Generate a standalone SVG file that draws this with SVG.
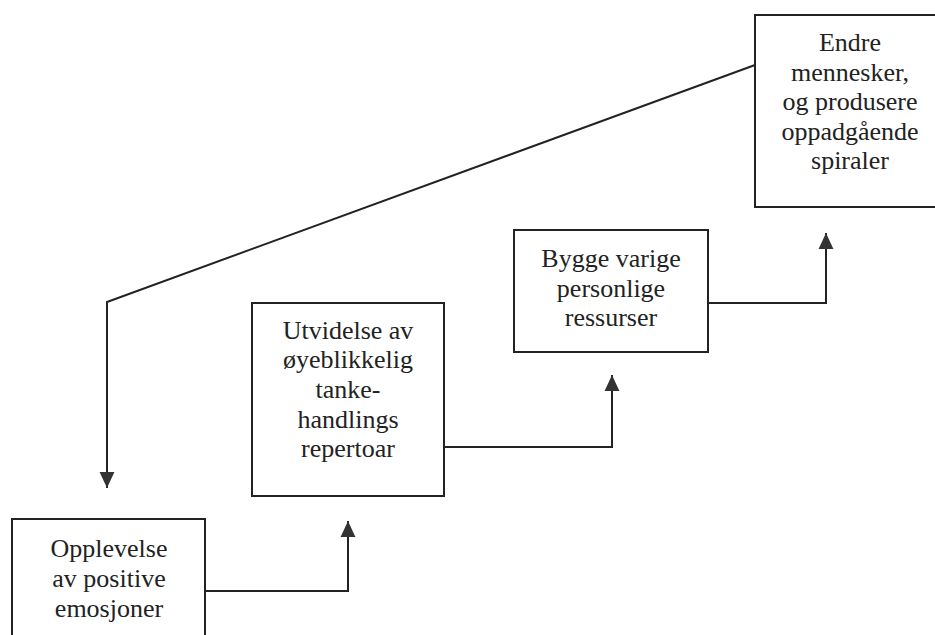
<svg xmlns="http://www.w3.org/2000/svg" width="935" height="635" viewBox="0 0 935 635">
<defs>
<style>
.box{fill:#fff;stroke:#222;stroke-width:2}
.lbl{font-family:'Liberation Serif','Times New Roman',serif;font-size:26px;fill:#222;text-anchor:middle}
.con{fill:none;stroke:#222;stroke-width:2}
</style>
<marker id="ah" markerUnits="userSpaceOnUse" markerWidth="16" markerHeight="16" viewBox="0 0 14 14" refX="14" refY="7" orient="auto">
<path d="M0,0.5 L14,7 L0,13.5 Z" fill="#333"/>
</marker>
</defs>
<rect width="935" height="635" fill="#fff"/>
<g id="connectors">
<path class="con" d="M205,591 H348 V521" marker-end="url(#ah)"/>
<path class="con" d="M444,447 H612 V375" marker-end="url(#ah)"/>
<path class="con" d="M708,303 H826 V233" marker-end="url(#ah)"/>
<path class="con" d="M755,65 L107,302 V488" marker-end="url(#ah)"/>
</g>
<g id="n1">
<rect class="box" x="12" y="519" width="193" height="120"/>
<text class="lbl" x="109" y="557">Opplevelse</text>
<text class="lbl" x="109" y="587">av positive</text>
<text class="lbl" x="109" y="617">emosjoner</text>
</g>
<g id="n2">
<rect class="box" x="252" y="303" width="192" height="193"/>
<text class="lbl" x="348" y="339">Utvidelse av</text>
<text class="lbl" x="348" y="368">øyeblikkelig</text>
<text class="lbl" x="348" y="398">tanke-</text>
<text class="lbl" x="348" y="428">handlings</text>
<text class="lbl" x="348" y="457">repertoar</text>
</g>
<g id="n3">
<rect class="box" x="514" y="230" width="194" height="122"/>
<text class="lbl" x="611" y="267">Bygge varige</text>
<text class="lbl" x="611" y="297">personlige</text>
<text class="lbl" x="611" y="326">ressurser</text>
</g>
<g id="n4">
<rect class="box" x="755" y="15" width="200" height="192"/>
<text class="lbl" x="850" y="51">Endre</text>
<text class="lbl" x="850" y="81">mennesker,</text>
<text class="lbl" x="850" y="110">og produsere</text>
<text class="lbl" x="850" y="140">oppadgående</text>
<text class="lbl" x="850" y="169">spiraler</text>
</g>
</svg>
